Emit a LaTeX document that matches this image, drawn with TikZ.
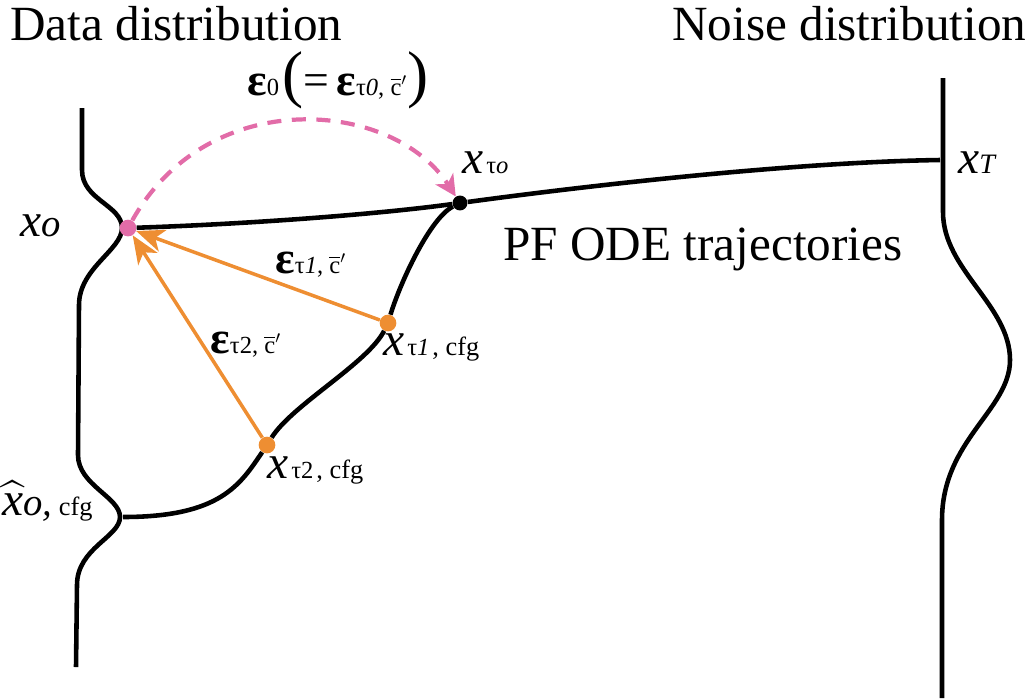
\documentclass[tikz,border=0pt]{standalone}
\usepackage{amsmath}
\usepackage{fontspec}
\IfFontExistsTF{LiberationSerif-Regular.ttf}{%
  \setmainfont{LiberationSerif}[Extension = .ttf, UprightFont = *-Regular,
    ItalicFont = *-Italic, BoldFont = *-Bold, BoldItalicFont = *-BoldItalic]}{%
  \setmainfont{Liberation Serif}}
\usepackage{tikz}
\usetikzlibrary{arrows.meta}

\definecolor{epspink}{RGB}{226,108,168}
\definecolor{cfgorange}{RGB}{238,142,50}

\newcommand{\xit}{{\fontsize{27}{30}\selectfont\itshape x}}
\newcommand{\epsv}{{\fontsize{26}{30}\selectfont\bfseries ε}}
\newcommand{\lsub}[1]{{\fontsize{14}{16}\selectfont #1}}
\newcommand{\cfgtxt}{{\fontsize{15}{18}\selectfont , cfg}}
\newcommand{\cbarp}{$\overline{\mbox{c}}'$}

\tikzset{
  traj/.style = {line width = 2.6pt},
  guide/.style = {line width = 2pt, cfgorange, -{Stealth[length = 16pt, width = 13pt, inset = 4.5pt]}},
  pinkdash/.style = {line width = 2.4pt, epspink, dash pattern = on 8pt off 6pt,
    -{Stealth[length = 12pt, width = 12pt, inset = 3.5pt]}},
  pdot/.style = {circle, inner sep = 0pt, minimum size = 9.5pt},
  lbl/.style = {anchor = base west, inner sep = 0pt}
}

\begin{document}
\begin{tikzpicture}[x = 0.02cm, y = -0.02cm]
  \useasboundingbox (0, 0) rectangle (1034, 698);
  % data and noise distributions
  \draw [traj] (82, 108) -- (82, 170) .. controls (82, 200) and (122, 205) .. (122, 228)
    .. controls (122, 250) and (79, 268) .. (79, 305) -- (78, 455)
    .. controls (78, 485) and (120, 497) .. (120, 517)
    .. controls (120, 537) and (77, 548) .. (77, 585) -- (76, 667);
  \draw [traj] (943, 78) -- (943, 212) .. controls (943, 270) and (1010, 305) .. (1010, 360)
    .. controls (1010, 410) and (942, 440) .. (942, 520) -- (942, 698);
  % points on the trajectories
  \node (x0) [pdot, fill = epspink] at (128, 228) {};
  \node (xt0) [pdot, fill = black, minimum size = 8.5pt] at (460, 203) {};
  \node (xt1) [pdot, fill = cfgorange] at (388, 323) {};
  \node (xt2) [pdot, fill = cfgorange] at (267, 445) {};
  \coordinate (xhat) at (123, 517);
  \coordinate (xT) at (940, 160);
  % PF ODE trajectories
  \draw [traj] (x0) .. controls (250, 224) and (380, 214) .. (xt0)
    .. controls (600, 184) and (800, 162) .. (xT);
  \draw [traj] (xt0) .. controls (430, 218) and (400, 283) .. (xt1)
    .. controls (368, 363) and (292, 405) .. (xt2)
    .. controls (240, 485) and (220, 517) .. (xhat);
  % noise predictions
  \draw [guide] (xt1) -- (x0);
  \draw [guide] (xt2) -- (x0);
  \draw [pinkdash] (x0) .. controls (209, 84) and (393, 99.5) .. (xt0);
  % labels
  \node (datalbl) [lbl, font = \fontsize{28}{32}\selectfont] at (10, 40) {Data distribution};
  \node (noiselbl) [lbl, font = \fontsize{28}{32}\selectfont] at (672, 40) {Noise distribution};
  \node (odelbl) [lbl, font = \fontsize{28}{32}\selectfont] at (503, 260) {PF ODE trajectories};
  \node (x0lbl) [lbl] at (20, 236) {\xit{\fontsize{22}{24}\selectfont\itshape o}};
  \node (xhatlbl) [lbl] at (2, 515) {{\fontsize{27}{30}\selectfont $\widehat{\mbox{\itshape x}}$}{\fontsize{22}{24}\selectfont\itshape o,}{\fontsize{15}{18}\selectfont\ cfg}};
  \node (xTlbl) [lbl] at (958, 173) {\xit{\fontsize{16}{18}\selectfont\itshape T}};
  \node (xt0lbl) [lbl] at (462, 173) {\xit\,\lsub{τ\textit{o}}};
  \node (xt1lbl) [lbl] at (383, 355) {\xit\,\lsub{τ\textit{1}}\,\cfgtxt};
  \node (xt2lbl) [lbl] at (267, 478) {\xit\,\lsub{τ2}\,\cfgtxt};
  \node (eps1lbl) [lbl] at (275, 273) {\epsv\lsub{τ\textit{1}, \cbarp}};
  \node (eps2lbl) [lbl] at (210, 353) {\epsv\lsub{τ2, \cbarp}};
  \node (eps0lbl) [lbl] at (247, 95) {\epsv\lsub{0}\,{\fontsize{36}{36}\selectfont (}{\fontsize{26}{30}\selectfont =\,}\epsv\lsub{τ\textit{0}, \cbarp}{\fontsize{36}{36}\selectfont )}};
\end{tikzpicture}
\end{document}
